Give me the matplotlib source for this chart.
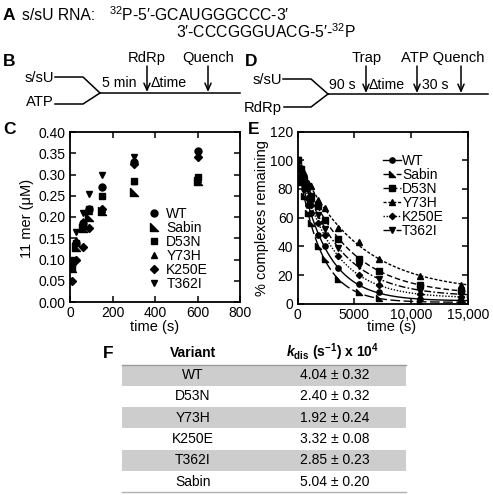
import numpy as np
import matplotlib
matplotlib.use('Agg')
import matplotlib.pyplot as plt
from matplotlib.path import Path
from matplotlib.patches import Rectangle

plt.rcParams['font.family'] = ['Liberation Sans', 'DejaVu Sans']
plt.rcParams['mathtext.fontset'] = 'custom'
plt.rcParams['mathtext.rm'] = 'Liberation Sans'
plt.rcParams['mathtext.it'] = 'Liberation Sans:italic'
plt.rcParams['mathtext.bf'] = 'Liberation Sans:bold'
plt.rcParams['mathtext.bfit'] = 'Liberation Sans:bold:italic'

# ---------------- data ----------------
variants = ['WT', 'Sabin', 'D53N', 'Y73H', 'K250E', 'T362I']

# Panel C: 11-mer formation (uM) vs time (s)
c_time = [10, 30, 60, 90, 150, 300, 600]
c_wt = [0.09, 0.14, 0.185, 0.22, 0.27, 0.33, 0.355]
c_sabin = [0.08, 0.13, 0.175, 0.20, 0.215, 0.26, 0.285]
c_d53n = [0.08, 0.14, 0.18, 0.22, 0.25, 0.285, 0.295]
c_y73h = [0.095, 0.145, 0.19, 0.215, 0.22, 0.285, 0.29]
c_k250e = [0.05, 0.10, 0.13, 0.175, 0.22, 0.325, 0.34]
c_t362i = [0.10, 0.165, 0.21, 0.255, 0.30, 0.34, 0.35]
c_yticks = [0.00, 0.05, 0.10, 0.15, 0.20, 0.25, 0.30, 0.35, 0.40]
c_xticks = [0, 200, 400, 600, 800]

# Panel E: % complexes remaining vs time (s)
e_time = [0, 300, 600, 900, 1200, 1800, 2400, 3600, 5400, 7200, 10800, 14400]
e_wt = [100, 88, 80, 69, 63, 48, 40, 25, 14, 8, 3, 2]
e_sabin = [100, 85, 75, 63, 56, 40, 31, 17, 8, 4, 1, 1]
e_d53n = [100, 94, 86, 82, 75, 68, 58, 45, 31, 23, 13, 9]
e_y73h = [100, 95, 91, 84, 82, 72, 67, 53, 43, 31, 19, 13]
e_k250e = [100, 90, 83, 74, 69, 56, 48, 33, 20, 13, 7, 5]
e_t362i = [100, 93, 84, 79, 71, 62, 52, 39, 26, 17, 9, 7]
e_fit_offset = [2, 1, 6, 8, 4, 5]
e_xticks = [0, 5000, 10000, 15000]
e_xticklabels = ['0', '5000', '10,000', '15,000']
e_yticks = [0, 20, 40, 60, 80, 100, 120]

# Panel F table
table_variants = ['WT', 'D53N', 'Y73H', 'K250E', 'T362I', 'Sabin']
table_kdis = [4.04, 2.40, 1.92, 3.32, 2.85, 5.04]
table_err = [0.32, 0.32, 0.24, 0.08, 0.23, 0.20]

# ---------------- styles ----------------
sabin_marker = Path([(-1, 1), (-1, -1), (1, -1), (-1, 1)],
                    [Path.MOVETO, Path.LINETO, Path.LINETO, Path.CLOSEPOLY])
markers = ['o', sabin_marker, 's', '^', 'D', 'v']
msizes_c = [5, 5.5, 5, 5, 4, 5]
msizes_e = [3.8, 4.2, 3.8, 3.8, 3.2, 3.8]
lstyles = ['-', (0, (7, 2.5)), (0, (4, 2)), (0, (2.2, 1.3)), (0, (1, 1.2)),
           (0, (5, 1.6, 1.2, 1.6))]

W, H = 493, 495
fig = plt.figure(figsize=(W / 100, H / 100), dpi=100)

ov = fig.add_axes([0, 0, 1, 1])
ov.set_xlim(0, W)
ov.set_ylim(H, 0)
ov.axis('off')


def T(x, y, s, size=10.6, ha='left', **kw):
    ov.text(x, y, s, fontsize=size, ha=ha, va='center', **kw)


# ---------------- panel A ----------------
T(3, 16, 'A', size=12.5, weight='bold')
T(22, 15, 's/sU RNA:', size=11.3)
T(109, 15, '$^{\\mathregular{32}}$P-5\u2032-GCAUGGGCCC-3\u2032', size=11.3)
T(176, 32, '3\u2032-CCCGGGUACG-5\u2032-$^{\\mathregular{32}}$P', size=11.3)

# ---------------- panel B scheme ----------------
lw_s = 1.1
T(3, 61, 'B', size=12.5, weight='bold')
ov.plot([55, 83, 100], [77, 77, 93], color='k', lw=lw_s)
ov.plot([55, 83, 100], [104, 104, 93], color='k', lw=lw_s)
ov.plot([100, 240], [93, 93], color='k', lw=lw_s)
T(54, 78, 's/sU', ha='right')
T(54, 102, 'ATP', ha='right')
T(102, 83, '5 min', size=10.2)
T(151, 83, '\u0394time', size=10.2)
T(147, 58, 'RdRp', ha='center')
T(208, 58, 'Quench', ha='center')
for xa in [147, 208]:
    ov.annotate('', xy=(xa, 92), xytext=(xa, 66),
                arrowprops=dict(arrowstyle='->,head_length=0.5,head_width=0.22',
                                lw=1.1, color='k', shrinkA=0, shrinkB=0))

# ---------------- panel D scheme ----------------
T(245, 61, 'D', size=12.5, weight='bold')
ov.plot([283, 311, 328], [79, 79, 94], color='k', lw=lw_s)
ov.plot([284, 311, 328], [107, 107, 94], color='k', lw=lw_s)
ov.plot([328, 488], [94, 94], color='k', lw=lw_s)
T(282, 80, 's/sU', ha='right')
T(282, 108, 'RdRp', ha='right')
T(329, 85, '90 s', size=10.2)
T(369, 85, '\u0394time', size=10.2)
T(422, 85, '30 s', size=10.2)
T(367, 58, 'Trap', ha='center')
T(401, 58, 'ATP Quench')
for xa in [366, 417, 461]:
    ov.annotate('', xy=(xa, 93), xytext=(xa, 66),
                arrowprops=dict(arrowstyle='->,head_length=0.5,head_width=0.22',
                                lw=1.1, color='k', shrinkA=0, shrinkB=0))

# ---------------- panel C ----------------
T(3, 130, 'C', size=12.5, weight='bold')
axC = fig.add_axes([70 / W, 1 - 302 / H, 170 / W, 170 / H])
c_series = [c_wt, c_sabin, c_d53n, c_y73h, c_k250e, c_t362i]
for name, vals, m, ms in zip(variants, c_series, markers, msizes_c):
    axC.plot(c_time, vals, linestyle='none', marker=m, ms=ms, color='k',
             label=name)
axC.set_xlim(0, 800)
axC.set_ylim(0, 0.40)
axC.set_xticks(c_xticks)
axC.set_yticks(c_yticks)
axC.set_yticklabels(['%.2f' % v for v in c_yticks])
axC.legend(loc='upper left', bbox_to_anchor=(0.46, 0.56), frameon=False,
           fontsize=10, handlelength=0.8, handletextpad=0.5,
           labelspacing=0.0, borderpad=0, borderaxespad=0)
T(27, 218, '11 mer (\u03bcM)', size=10.5, ha='center', rotation=90)
T(155, 327, 'time (s)', size=10.5, ha='center')

# ---------------- panel E ----------------
T(248, 130, 'E', size=12.5, weight='bold')
axE = fig.add_axes([297.5 / W, 1 - 303.75 / H, 170.5 / W, 172.25 / H])
e_series = [e_wt, e_sabin, e_d53n, e_y73h, e_k250e, e_t362i]
kd = dict(zip(table_variants, table_kdis))
t_fit = np.linspace(0, 15000, 400)
for name, vals, m, ms, ls, off in zip(variants, e_series, markers, msizes_e,
                                      lstyles, e_fit_offset):
    k = kd[name] * 1e-4
    yfit = (100 - off) * np.exp(-k * t_fit) + off
    axE.plot(t_fit, yfit, color='k', lw=1.0, linestyle=ls)
    axE.plot(e_time, vals, linestyle='none', marker=m, ms=ms, color='k')
    axE.plot([], [], color='k', lw=1.0, linestyle=ls, marker=m, ms=ms, label=name)
axE.set_xlim(0, 15000)
axE.set_ylim(0, 120)
axE.set_xticks(e_xticks)
axE.set_xticklabels(e_xticklabels)
axE.set_yticks(e_yticks)
axE.legend(loc='upper left', bbox_to_anchor=(0.5, 0.87), frameon=False,
           fontsize=10, handlelength=1.3, handletextpad=0.1,
           labelspacing=0.0, borderpad=0, borderaxespad=0)
T(262, 218, '% complexes remaining', size=10.5, ha='center', rotation=90)
T(392, 327, 'time (s)', size=10.5, ha='center')

for ax in (axC, axE):
    for sp in ax.spines.values():
        sp.set_linewidth(1.3)
    ax.tick_params(direction='in', length=4, width=1.1, top=True, right=True,
                   labelsize=10, pad=3)

# ---------------- panel F table ----------------
T(103, 353, 'F', size=12.5, weight='bold')
T(193, 353, 'Variant', size=10, ha='center', weight='bold')
T(333, 352, r'$\mathbfit{k}_{\mathbf{dis}}$ (s$^{\mathbf{-1}}$) x 10$^{\mathbf{4}}$',
  size=10, ha='center', weight='bold')
x0, x1 = 122, 406
top, rh = 364.5, 21.3
for i, (v, k, e) in enumerate(zip(table_variants, table_kdis, table_err)):
    yt = top + i * rh
    if i % 2 == 0:
        ov.add_patch(Rectangle((x0, yt), x1 - x0, rh, facecolor='#cdcdcd',
                               edgecolor='none', zorder=0))
    T(193, yt + rh / 2, v, size=10, ha='center')
    T(335, yt + rh / 2, '%.2f \u00b1 %.2f' % (k, e), size=10, ha='center')
ov.plot([x0, x1], [top, top], color='#9a9a9a', lw=1.0)
ov.plot([x0, x1], [top + 6 * rh, top + 6 * rh], color='#b0b0b0', lw=1.0)

fig.savefig('out.png', dpi=100)
